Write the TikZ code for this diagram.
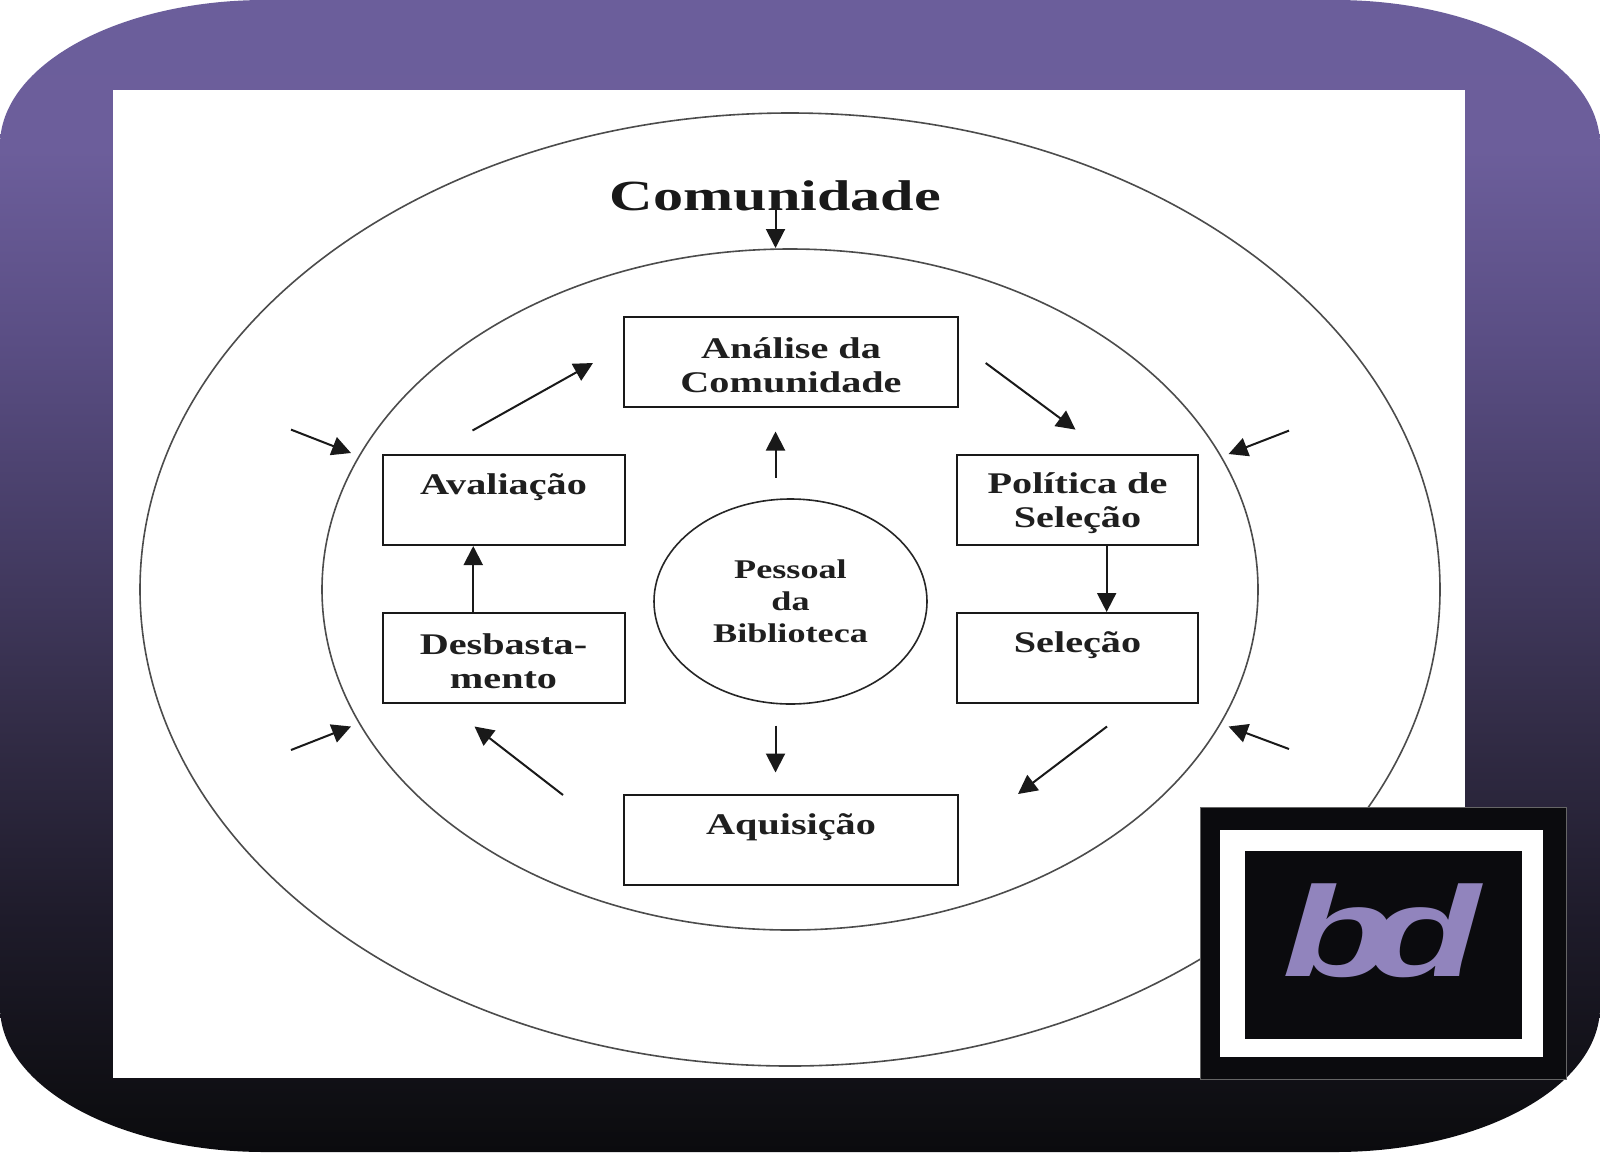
\documentclass[tikz,border=0pt]{standalone}
\usepackage{fontspec}
\usetikzlibrary{shapes.geometric,arrows.meta,calc}
\newfontfamily\lblf[FakeStretch=1.34]{Liberation Serif}
\newfontfamily\titlef[FakeStretch=1.40]{Liberation Serif}
\newfontfamily\logof[FakeStretch=1.43]{Liberation Sans}
\newcommand{\firstline}{\rule{0pt}{28pt}}
\newcommand{\blankline}{\rule[-6pt]{0pt}{6pt}}
\definecolor{lineblk}{RGB}{25,25,25}
\definecolor{logoviolet}{RGB}{145,132,189}
\definecolor{logoblack}{RGB}{11,11,14}
\definecolor{ga}{RGB}{107,94,155}
\definecolor{gb}{RGB}{108,94,155}
\definecolor{gc}{RGB}{90,78,132}
\definecolor{gd}{RGB}{70,61,102}
\definecolor{ge}{RGB}{50,44,70}
\definecolor{gf}{RGB}{30,27,42}
\definecolor{gg}{RGB}{14,14,18}
\definecolor{gh}{RGB}{11,11,14}
\pgfdeclareverticalshading{framegrad}{100bp}{
  color(0bp)=(gh);
  color(25bp)=(gh);
  color(26.8bp)=(gg);
  color(35.1bp)=(gf);
  color(43.4bp)=(ge);
  color(51.8bp)=(gd);
  color(60.2bp)=(gc);
  color(68.5bp)=(gb);
  color(75bp)=(ga);
  color(100bp)=(ga)}
\tikzset{
  x=1pt,y=-1pt,
  stagebox/.style={draw=lineblk,line width=2pt,fill=white,rectangle,inner sep=0pt,align=center,
    font=\lblf\bfseries\fontsize{30}{34}\selectfont,text=black!88},
  ring/.style={draw=black!70,line width=1.6pt,ellipse,inner sep=0pt},
  flow/.style={draw=black!90,line width=2pt,-{Triangle[length=19pt,width=19pt]}},
}
\begin{document}
\begin{tikzpicture}
\useasboundingbox (0,0) rectangle (1600,1152);
\fill[white] (0,0) rectangle (1600,1152);
\path[shading=framegrad] (0,145) .. controls (0,65) and (119,0) .. (265,0) -- (1335,0)
  .. controls (1481,0) and (1600,65) .. (1600,145) -- (1600,1007)
  .. controls (1600,1087) and (1481,1152) .. (1335,1152) -- (265,1152)
  .. controls (119,1152) and (0,1087) .. (0,1007) -- cycle;
\fill[white] (113,90) rectangle (1465,1078);

\node[ring,minimum width=1300pt,minimum height=953pt] (outer) at (790,589.5) {};
\node[ring,minimum width=936pt,minimum height=681pt] (inner) at (790,589.5) {};
\node[font=\titlef\bfseries\fontsize{43}{48}\selectfont,text=black!90,inner sep=0pt] (title) at (775.5,196) {Comunidade};

\node[stagebox,minimum width=334pt,minimum height=90pt] (ana) at (791,362) {\firstline Análise da\\Comunidade};
\node[stagebox,minimum width=242pt,minimum height=90pt] (ava) at (503.5,500) {\firstline Avaliação\\\blankline};
\node[stagebox,minimum width=241pt,minimum height=90pt] (pol) at (1077.5,500) {\firstline Política de\\Seleção};
\node[stagebox,minimum width=242pt,minimum height=90pt] (des) at (503.5,658) {\firstline Desbasta-\\mento};
\node[stagebox,minimum width=241pt,minimum height=90pt] (sel) at (1077.5,658) {\firstline Seleção\\\blankline};
\node[stagebox,minimum width=334pt,minimum height=90pt] (aqu) at (791,840) {\firstline Aquisição\\\blankline};
\node[ring,draw=black!85,minimum width=273pt,minimum height=205pt,align=center,
  font=\lblf\bfseries\fontsize{27}{32}\selectfont,text=black!88] (pes) at (790.5,601.5) {Pessoal\\da\\Biblioteca};

\coordinate (t0) at (775.5,204); \coordinate (t1) at (775.5,248);
\coordinate (u0) at (775.5,477.5); \coordinate (u1) at (775.5,431.5);
\coordinate (d0) at (775.5,725.5); \coordinate (d1) at (775.5,772.5);
\coordinate (ne0) at (472.5,430.5); \coordinate (ne1) at (593,363);
\coordinate (se0) at (985.7,363); \coordinate (se1) at (1075.5,429.6);
\coordinate (sw0) at (1107,726.5); \coordinate (sw1) at (1018,794);
\coordinate (nw0) at (563,795); \coordinate (nw1) at (474.5,726.5);
\coordinate (a0) at (291,429.6); \coordinate (a1) at (351,453);
\coordinate (b0) at (1289,430.6); \coordinate (b1) at (1228.6,454);
\coordinate (c0) at (291,750); \coordinate (c1) at (351,726.5);
\coordinate (e0) at (1289,749); \coordinate (e1) at (1228.6,726.5);

\draw[flow] (t0) -- (t1);
\draw[flow] (u0) -- (u1);
\draw[flow] (d0) -- (d1);
\draw[flow] (ne0) -- (ne1);
\draw[flow] (se0) -- (se1);
\draw[flow] (sw0) -- (sw1);
\draw[flow] (nw0) -- (nw1);
\draw[flow] ($(pol.south west)!0.62!(pol.south east)$) -- ($(sel.north west)!0.62!(sel.north east)$);
\draw[flow] ($(des.north west)!0.376!(des.north east)$) -- ($(ava.south west)!0.376!(ava.south east)$);
\draw[flow] (a0) -- (a1);
\draw[flow] (b0) -- (b1);
\draw[flow] (c0) -- (c1);
\draw[flow] (e0) -- (e1);

\filldraw[fill=logoblack,draw=black!60,line width=0.6pt] (1200,807) rectangle (1566,1079);
\fill[white] (1220,830) rectangle (1542.5,1057);
\fill[logoblack] (1245,850.5) rectangle (1522,1039);
\node[font=\logof\bfseries\itshape\fontsize{128}{128}\selectfont,text=logoviolet,inner sep=0pt] (logo) at (1381,931) {b\kern-0.2em d};
\end{tikzpicture}
\end{document}
